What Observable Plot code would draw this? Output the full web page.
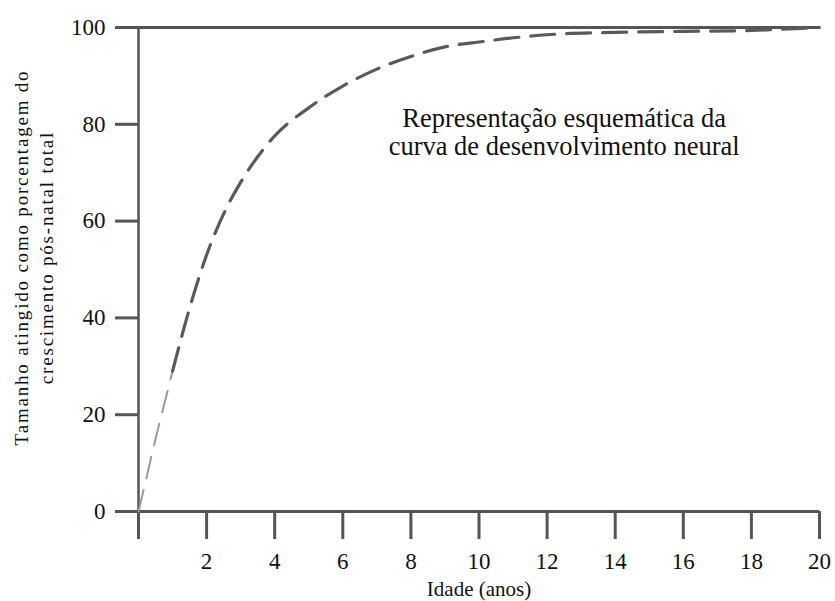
<!DOCTYPE html>
<html>
<head>
<meta charset="utf-8">
<script src="https://cdn.jsdelivr.net/npm/d3@7"></script>
<script src="https://cdn.jsdelivr.net/npm/@observablehq/plot@0.6"></script>
<style>
  html, body { margin: 0; padding: 0; background: #fff; }
  #chart svg { display: block; }
</style>
</head>
<body>
<div id="chart"></div>
<script>
// Data
const ages =    [0, 0.25, 0.5, 0.75, 1,  1.5, 2,  2.5, 3,  3.5,  4,    5,    6,    7,    8,  9,  10, 12,   14, 16,   18,   20];
const percent = [0, 7.5,  15,  22,   29, 42,  53, 61.5, 68, 73.3, 77.6, 83.4, 87.9, 91.4, 94, 96, 97, 98.5, 99, 99.2, 99.4, 100];
const xTicks = [0, 2, 4, 6, 8, 10, 12, 14, 16, 18, 20];
const yTicks = [0, 20, 40, 60, 80, 100];
const annotationLines = ["Representação esquemática da", "curva de desenvolvimento neural"];
const annotationPos = {x: 12.5, y: 78.4};
const yTitleLines = ["Tamanho atingido como porcentagem do", "crescimento pós-natal total"];
const xTitle = "Idade (anos)";

const curve = ages.map((a, i) => ({age: a, pct: percent[i]}));
const faded = curve.filter(d => d.age <= 1);
const solid = curve.filter(d => d.age >= 1);

const axisColor = "#555";
const serif = "'Liberation Serif', 'Times New Roman', serif";

const chart = Plot.plot({
  width: 835,
  height: 601,
  marginLeft: 138,
  marginRight: 16,
  marginTop: 27,
  marginBottom: 90,
  style: {fontFamily: serif, color: "#111", background: "#fff"},
  x: {domain: [0, 20]},
  y: {domain: [0, 100]},
  marks: [
    Plot.ruleY([0, 100], {stroke: axisColor, strokeWidth: 3}),
    Plot.ruleX([0], {stroke: axisColor, strokeWidth: 2.5}),
    Plot.axisX({
      ticks: xTicks, tickSize: 28, tickPadding: 13, stroke: axisColor, strokeWidth: 3,
      tickFormat: d => d === 0 ? "" : d, fontSize: 23, fill: "#111", label: null
    }),
    Plot.axisY({
      ticks: yTicks, tickSize: 23, tickPadding: 10, stroke: axisColor, strokeWidth: 3,
      fontSize: 23, fill: "#111", label: null
    }),
    Plot.line(faded, {x: "age", y: "pct", stroke: "#9a9a9a", strokeWidth: 2, strokeDasharray: "22,12", curve: "monotone-x"}),
    Plot.line(solid, {x: "age", y: "pct", stroke: "#5a5a5a", strokeWidth: 3.2, strokeDasharray: "24,12", curve: "monotone-x"}),
    Plot.text([annotationLines.join("\n")], {
      x: () => annotationPos.x, y: () => annotationPos.y,
      fontSize: 26.5, lineHeight: 1.06, textAnchor: "middle", fill: "#111"
    }),
    Plot.text([yTitleLines.join("\n")], {
      frameAnchor: "left", textAnchor: "middle", rotate: -90, dx: -106, dy: -12,
      fontSize: 19, lineHeight: 1.32, fill: "#111"
    }),
    Plot.text([xTitle], {
      frameAnchor: "bottom", dy: 84, fontSize: 21, fill: "#111"
    })
  ]
});
d3.select(chart).selectAll("text")
  .filter(function () { return this.textContent.includes(yTitleLines[0]); })
  .style("letter-spacing", "1.8px")
  .selectAll("tspan").style("letter-spacing", "1.8px");
document.getElementById("chart").appendChild(chart);
</script>
</body>
</html>
